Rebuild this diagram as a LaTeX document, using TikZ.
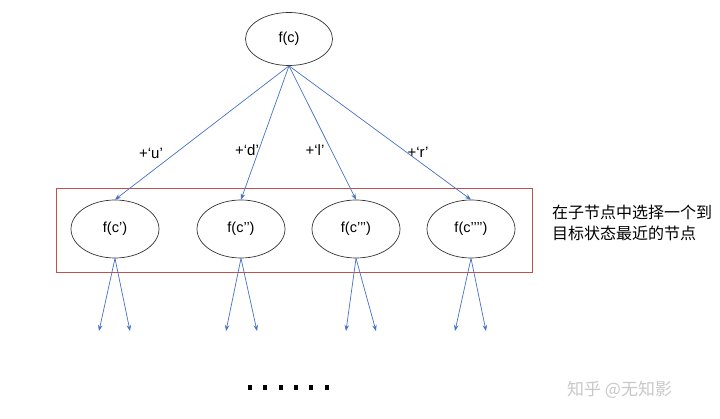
\documentclass[tikz,border=0pt]{standalone}
\usepackage{fontspec}
\setmainfont{Liberation Sans}
\newfontfamily\cjk{Noto Sans CJK SC}
\usetikzlibrary{shapes.geometric,arrows.meta}
\definecolor{arrowblue}{HTML}{4472C4}
\definecolor{boxred}{HTML}{C0504D}
\definecolor{wm}{HTML}{C8C8C8}
\tikzset{
  ell/.style={ellipse, draw=black!80, line width=0.7pt, minimum width=88pt, minimum height=58pt, inner sep=0pt, font=\fontsize{14.5}{16}\selectfont},
  topell/.style={ell, minimum width=87pt, minimum height=53pt},
  conn/.style={draw=arrowblue, line width=0.7pt, -{Stealth[length=6pt,width=4.5pt]}},
  lbl/.style={font=\fontsize{15}{17}\selectfont, inner sep=0pt},
}
\begin{document}
\begin{tikzpicture}[x=1pt,y=-1pt]
\useasboundingbox (0,0) rectangle (720,419);
\node[topell] (top) at (289,39) {f(c)};
\node[ell] (c1) at (115,229) {f(c’)};
\node[ell] (c2) at (241,229) {f(c’’)};
\node[ell] (c3) at (356,229) {f(c’’’)};
\node[ell] (c4) at (471,229) {f(c’’’’)};
\node[draw=boxred, line width=0.7pt, minimum width=476pt, minimum height=84pt, inner sep=0pt] (box) at (294,230) {};
\draw[conn] (top.south) -- (c1.north);
\draw[conn] (top.south) -- (c2.north);
\draw[conn] (top.south) -- (c3.north);
\draw[conn] (top.south) -- (c4.north);
\node[lbl] (lu) at (151,153) {+‘u’};
\node[lbl] (ld) at (247,150) {+‘d’};
\node[lbl] (ll) at (315,150) {+‘l’};
\node[lbl] (lr) at (418,152) {+‘r’};
\coordinate (a1) at (99,331); \coordinate (b1) at (130,331);
\coordinate (a2) at (226,331); \coordinate (b2) at (257,331);
\coordinate (a3) at (346,331); \coordinate (b3) at (376,331);
\coordinate (a4) at (455,331); \coordinate (b4) at (486,331);
\foreach \i in {1,2,3,4}{
  \draw[conn] (c\i.south) -- (a\i);
  \draw[conn] (c\i.south) -- (b\i);
}
\foreach \k in {0,...,5}{
  \fill[black] ({250+\k*15.3-2},385) rectangle ({250+\k*15.3+2},389.5);
}
\node[anchor=west, align=left, inner sep=0pt, font=\cjk\fontsize{16}{20.5}\selectfont] (note) at (552,223) {在子节点中选择一个到\\目标状态最近的节点};
\node[anchor=west, inner sep=0pt, text=wm, font=\cjk\fontsize{17}{20}\selectfont] (wmk) at (567,390) {知乎 @无知影};
\end{tikzpicture}
\end{document}
